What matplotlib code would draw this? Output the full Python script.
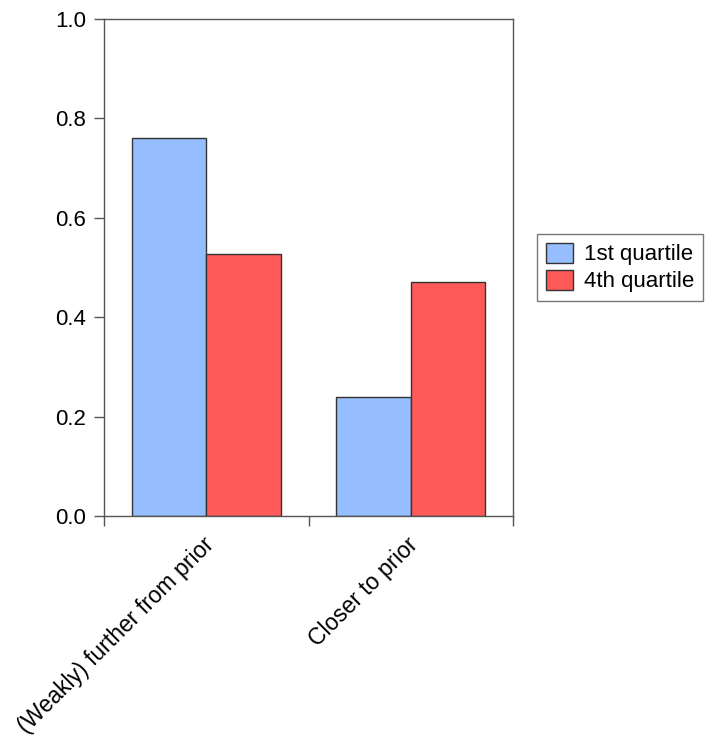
import matplotlib
matplotlib.use("Agg")
import matplotlib.pyplot as plt
import numpy as np

plt.rcParams['font.family'] = ['Liberation Sans', 'DejaVu Sans']

categories = ["(Weakly) further from prior", "Closer to prior"]
series_names = ["1st quartile", "4th quartile"]
q1_values = [0.760, 0.240]
q4_values = [0.528, 0.471]
colors = ["#96BEFF", "#FF5A5A"]

fig = plt.figure(figsize=(7.05, 7.39), dpi=100)
ax = fig.add_axes([0.1475, 0.3018, 0.5802, 0.6725])

x = np.arange(len(categories)) + 0.5
w = 0.364
ax.bar(x - w/2, q1_values, w, color=colors[0], edgecolor="#333333", linewidth=1.0, label=series_names[0])
ax.bar(x + w/2, q4_values, w, color=colors[1], edgecolor="#333333", linewidth=1.0, label=series_names[1])

ax.set_xlim(0, 2)
ax.set_ylim(0, 1.0)
ax.set_yticks([0.0, 0.2, 0.4, 0.6, 0.8, 1.0])
ax.set_yticklabels(["0.0", "0.2", "0.4", "0.6", "0.8", "1.0"])
ax.set_xticks([0, 1, 2])
ax.set_xticklabels([])
ax.tick_params(axis='y', direction='out', length=7, width=1, color="#555555", labelsize=16, pad=6)
ax.tick_params(axis='x', direction='out', length=7, width=1, color="#555555")
for s in ax.spines.values():
    s.set_color("#555555")
    s.set_linewidth(1.0)

for xi, lab in zip(x, categories):
    ax.text(xi - 0.02, -0.035, lab, rotation=45, ha='right', va='top', rotation_mode='anchor',
            fontsize=16.5, transform=ax.get_xaxis_transform())

leg = ax.legend(loc='center left', bbox_to_anchor=(1.059, 0.5), fontsize=16, frameon=True,
                fancybox=False, edgecolor="#555555", handlelength=1.2, handleheight=1.0,
                handletextpad=0.5, borderpad=0.4, labelspacing=0.2, borderaxespad=0)
leg.get_frame().set_linewidth(1.0)

fig.savefig("out.png", dpi=100)
